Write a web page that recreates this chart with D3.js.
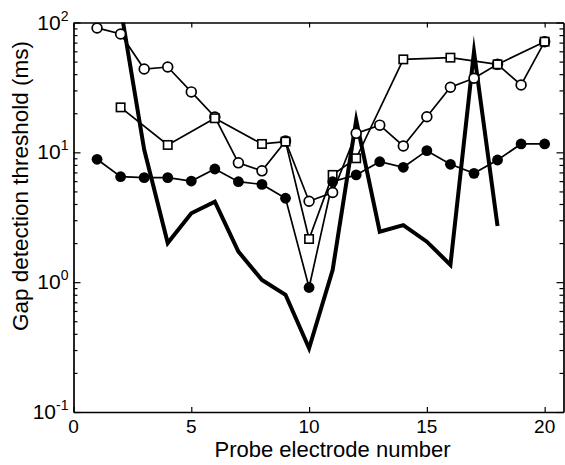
<!DOCTYPE html>
<html>
<head>
<meta charset="utf-8">
<script src="https://cdn.jsdelivr.net/npm/d3@7"></script>
<style>
  html, body { margin: 0; padding: 0; background: #fff; }
  svg { display: block; font-family: "Liberation Sans", Arial, Helvetica, sans-serif; }
</style>
</head>
<body>
<svg id="chart" width="565" height="465"></svg>
<script>
// Electrode numbers and gap detection thresholds (ms)
const openCircleX = [1, 2, 3, 4, 5, 6, 7, 8, 9, 10, 11, 12, 13, 14, 15, 16, 17, 18, 19, 20];
const openCircleY = [90.8, 81.5, 43.8, 45.4, 29.2, 18.7, 8.3, 7.2, 12.2, 4.2, 4.9, 14.0, 16.2, 11.2, 18.8, 31.7, 37.2, 47.6, 33.0, 71.2];

const squareX = [2, 4, 6, 8, 9, 10, 11, 12, 14, 16, 18, 20];
const squareY = [22.2, 11.4, 18.3, 11.6, 12.1, 2.15, 6.7, 9.0, 52.0, 53.6, 47.6, 71.2];

const filledX = [1, 2, 3, 4, 5, 6, 7, 8, 9, 10, 11, 12, 13, 14, 15, 16, 17, 18, 19, 20];
const filledY = [8.84, 6.49, 6.38, 6.38, 6.01, 7.44, 5.94, 5.66, 4.43, 0.91, 5.94, 6.7, 8.47, 7.67, 10.3, 8.09, 6.89, 8.73, 11.6, 11.6];

const thickX = [2, 3, 4, 5, 6, 7, 8, 9, 10, 11, 12, 13, 14, 15, 16, 17, 18];
const thickY = [130, 10.5, 2.0, 3.39, 4.17, 1.72, 1.04, 0.80, 0.31, 1.24, 17.7, 2.45, 2.75, 2.05, 1.36, 59.6, 2.71];

const xTicks = [0, 5, 10, 15, 20];
const yDecades = [0.1, 1, 10, 100];
const yDecadeLabels = ["-1", "0", "1", "2"];

const xTitle = "Probe electrode number";
const yTitle = "Gap detection threshold (ms)";

const svg = d3.select("#chart");
const plotLeft = 73.5, plotRight = 563.5, plotTop = 22.5, plotBottom = 412;

const x = d3.scaleLinear().domain([0, 20.8]).range([plotLeft, plotRight]);
const y = d3.scaleLog().domain([0.1, 100]).range([plotBottom, plotTop]);

const zip = (xs, ys) => xs.map((v, i) => ({ x: v, y: ys[i] }));
const line = d3.line().x(d => x(d.x)).y(d => y(d.y));

svg.append("clipPath").attr("id", "plotClip")
  .append("rect").attr("x", plotLeft).attr("y", plotTop)
  .attr("width", plotRight - plotLeft).attr("height", plotBottom - plotTop);

const plot = svg.append("g").attr("clip-path", "url(#plotClip)");

// thick line, no markers
plot.append("path").datum(zip(thickX, thickY))
  .attr("d", line).attr("fill", "none").attr("stroke", "#000")
  .attr("stroke-width", 4).attr("stroke-linejoin", "miter").attr("stroke-miterlimit", 10);

const thin = (data) => plot.append("path").datum(data)
  .attr("d", line).attr("fill", "none").attr("stroke", "#000").attr("stroke-width", 1.7);

const circ = zip(openCircleX, openCircleY);
const sq = zip(squareX, squareY);
const filled = zip(filledX, filledY);

thin(circ);
thin(sq);
thin(filled);

plot.selectAll(".oc").data(circ).join("circle").attr("class", "oc")
  .attr("cx", d => x(d.x)).attr("cy", d => y(d.y)).attr("r", 4.9)
  .attr("fill", "#fff").attr("stroke", "#000").attr("stroke-width", 1.7);

plot.selectAll(".sq").data(sq).join("rect").attr("class", "sq")
  .attr("x", d => x(d.x) - 4.2).attr("y", d => y(d.y) - 4.2)
  .attr("width", 8.4).attr("height", 8.4)
  .attr("fill", "#fff").attr("stroke", "#000").attr("stroke-width", 1.6);

plot.selectAll(".fc").data(filled).join("circle").attr("class", "fc")
  .attr("cx", d => x(d.x)).attr("cy", d => y(d.y)).attr("r", 5.4)
  .attr("fill", "#000");

// axes box with inward ticks
const logTicks = y.ticks();
const styleAxis = g => {
  g.select(".domain").attr("stroke", "#000").attr("stroke-width", 1.7);
  g.selectAll(".tick line").attr("stroke", "#000").attr("stroke-width", 1.2);
};

svg.append("g").attr("transform", `translate(0,${plotBottom})`)
  .call(d3.axisBottom(x).tickValues(xTicks).tickSize(-5).tickSizeOuter(0).tickFormat(""))
  .call(styleAxis);
svg.append("g").attr("transform", `translate(0,${plotTop})`)
  .call(d3.axisTop(x).tickValues(xTicks).tickSize(-5).tickSizeOuter(0).tickFormat(""))
  .call(styleAxis);
svg.append("g").attr("transform", `translate(${plotLeft},0)`)
  .call(d3.axisLeft(y).tickValues(logTicks).tickSize(-4).tickSizeOuter(0).tickFormat(""))
  .call(styleAxis)
  .selectAll(".tick line").attr("x2", d => yDecades.includes(d) ? 7 : 4);
svg.append("g").attr("transform", `translate(${plotRight},0)`)
  .call(d3.axisRight(y).tickValues(logTicks).tickSize(-4).tickSizeOuter(0).tickFormat(""))
  .call(styleAxis)
  .selectAll(".tick line").attr("x2", d => yDecades.includes(d) ? -7 : -4);

// x tick labels
svg.append("g").selectAll("text").data(xTicks).join("text")
  .attr("x", d => x(d)).attr("y", plotBottom + 21)
  .attr("text-anchor", "middle").attr("font-size", 19).attr("fill", "#000")
  .text(d => d);

// y tick labels: 10 with superscript exponent
const yl = svg.append("g").selectAll("text").data(yDecades).join("text")
  .attr("x", plotLeft - 5).attr("y", d => y(d) + 7)
  .attr("text-anchor", "end").attr("font-size", 21).attr("fill", "#000");
yl.append("tspan").text("10");
yl.append("tspan").attr("dy", -9).attr("font-size", 14)
  .text((d, i) => yDecadeLabels[i]);

// axis titles
svg.append("text").attr("x", (plotLeft + plotRight) / 2 + 14).attr("y", 457)
  .attr("text-anchor", "middle").attr("font-size", 22).attr("fill", "#000")
  .text(xTitle);

svg.append("text")
  .attr("transform", "translate(28,186) rotate(-90)")
  .attr("text-anchor", "middle").attr("font-size", 22.5).attr("fill", "#000")
  .text(yTitle);
</script>
</body>
</html>
